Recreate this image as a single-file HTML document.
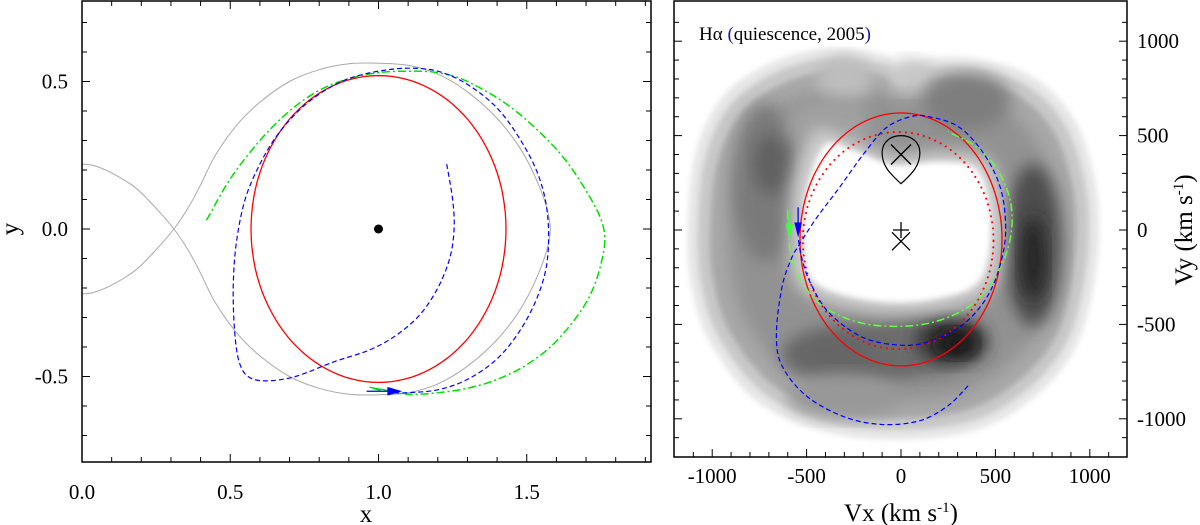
<!DOCTYPE html>
<html><head><meta charset="utf-8"><style>
html,body{margin:0;padding:0;background:#fff;}
svg{display:block;font-family:"Liberation Serif",serif;}
</style></head><body>
<svg id="fig" width="1200" height="525" viewBox="0 0 1200 525" xmlns="http://www.w3.org/2000/svg">
<defs>
<filter id="blur1" x="-20%" y="-20%" width="140%" height="140%"><feGaussianBlur stdDeviation="3"/></filter>
<filter id="blur2" x="-20%" y="-20%" width="140%" height="140%"><feGaussianBlur stdDeviation="8"/></filter>
<clipPath id="clipL"><rect x="82" y="1" width="569" height="461"/></clipPath>
<clipPath id="clipR"><rect x="674" y="1" width="453" height="456"/></clipPath>
</defs>
<g id="left"></g>
<g id="right"></g>
</svg>
<script>
// ---------- LEFT PANEL DATA (orbital coords) ----------
const rocheCurve = [[0,0.22],[0.04,0.215],[0.1,0.19],[0.18,0.14],[0.25,0.07],[0.31,0],[0.36,-0.075],[0.4,-0.15],[0.45,-0.25],[0.52,-0.35],[0.6,-0.43],[0.7,-0.5],[0.8,-0.54],[0.9,-0.56],[1.0,-0.562],[1.1,-0.555],[1.2,-0.525],[1.3,-0.465],[1.4,-0.375],[1.48,-0.27],[1.54,-0.15],[1.575,-0.04],[1.575,0.04],[1.54,0.15],[1.48,0.27],[1.4,0.375],[1.3,0.465],[1.2,0.525],[1.1,0.555],[1.0,0.562],[0.9,0.56],[0.8,0.54],[0.7,0.5],[0.6,0.43],[0.52,0.35],[0.45,0.25],[0.4,0.15],[0.36,0.075],[0.31,0],[0.25,-0.07],[0.18,-0.14],[0.1,-0.19],[0.04,-0.215],[0,-0.22]];
const diskCenter = [1.0, 0.0];
const diskRadii = [0.43, 0.52];
const greenOrbit = [[0.42,0.03],[0.5,0.17],[0.6,0.3],[0.7,0.4],[0.8,0.47],[0.9,0.51],[1.0,0.53],[1.1,0.535],[1.2,0.53],[1.3,0.5],[1.45,0.41],[1.6,0.27],[1.7,0.13],[1.76,0.0],[1.75,-0.12],[1.7,-0.25],[1.6,-0.38],[1.5,-0.46],[1.4,-0.51],[1.3,-0.54],[1.2,-0.555],[1.1,-0.56],[1.0,-0.545],[0.97,-0.535]];
const blueOrbit = [[1.23,0.22],[1.25,0.1],[1.255,0.0],[1.24,-0.1],[1.2,-0.2],[1.14,-0.29],[1.06,-0.36],[0.97,-0.41],[0.85,-0.45],[0.72,-0.5],[0.62,-0.515],[0.56,-0.5],[0.53,-0.45],[0.515,-0.35],[0.51,-0.2],[0.52,-0.05],[0.55,0.1],[0.6,0.22],[0.66,0.32],[0.74,0.41],[0.82,0.47],[0.9,0.51],[1.0,0.535],[1.1,0.545],[1.2,0.535],[1.3,0.49],[1.4,0.41],[1.48,0.3],[1.54,0.18],[1.57,0.05],[1.57,-0.1],[1.54,-0.22],[1.48,-0.34],[1.4,-0.44],[1.3,-0.51],[1.2,-0.545],[1.1,-0.555],[1.05,-0.555]];
const xTicksL = [0.0,0.5,1.0,1.5];
const xTickLabelsL = ["0.0","0.5","1.0","1.5"];
const yTicksL = [-0.5,0.0,0.5];
const yTickLabelsL = ["-0.5","0.0","0.5"];

// ---------- RIGHT PANEL DATA (km/s) ----------
const redDiskC = [0,-50]; const redDiskR = [535,670];
const redDotC = [-15,-56]; const redDotR = [505,575];
const blueVel = [[355,-826],[250,-930],[100,-1010],[-100,-1030],[-300,-990],[-500,-880],[-630,-720],[-660,-550],[-630,-300],[-580,-150],[-540,-80],[-450,60],[-330,220],[-200,400],[-80,540],[50,600],[150,600],[300,550],[420,430],[510,270],[550,100],[545,-100],[470,-330],[330,-500],[150,-590],[0,-610],[-200,-570],[-380,-440],[-480,-280],[-525,-150],[-545,-40]];
const greenVel = [[-600,100],[-595,0],[-585,-120],[-540,-250],[-420,-400],[-220,-490],[0,-510],[200,-480],[380,-390],[510,-230],[580,-40],[580,150],[510,320],[400,440],[250,520]];
const xTicksR = [-1000,-500,0,500,1000];
const xTickLabelsR = ["-1000","-500","0","500","1000"];
const yTicksR = [-1000,-500,0,500,1000];
const yTickLabelsR = ["-1000","-500","0","500","1000"];
const mapOuter = [[-1130,0],[-1090,400],[-950,700],[-700,880],[-400,960],[-100,930],[0,870],[150,910],[400,910],[700,810],[910,600],[1020,300],[1050,0],[1010,-350],[910,-650],[700,-890],[400,-1060],[0,-1110],[-400,-1070],[-760,-910],[-1010,-600],[-1110,-300]];
const mapHole = [[-510,-100],[-500,200],[-400,450],[-250,420],[-100,360],[0,340],[200,360],[400,320],[470,100],[460,-150],[380,-300],[150,-370],[-100,-380],[-350,-330],[-480,-250]];

const NS="http://www.w3.org/2000/svg";
function el(tag, attrs, parent){const e=document.createElementNS(NS,tag);for(const k in attrs)e.setAttribute(k,attrs[k]);parent.appendChild(e);return e;}
function txt(s,attrs,parent){const e=el('text',attrs,parent);e.textContent=s;return e;}

const lx=x=>82+x*296.5, ly=y=>229-y*295;
const rx=v=>901+v*0.1888, ry=v=>230-v*0.1888;
const pathOf=(pts,fx,fy,close)=>pts.map((p,i)=>(i?'L':'M')+fx(p[0]).toFixed(1)+' '+fy(p[1]).toFixed(1)).join(' ')+(close?' Z':'');
function smoothOpen(pts,fx,fy){
  const P=pts.map(p=>[fx(p[0]),fy(p[1])]);const n=P.length;let d='M'+P[0][0].toFixed(1)+' '+P[0][1].toFixed(1);
  for(let i=0;i<n-1;i++){const p0=P[Math.max(i-1,0)],p1=P[i],p2=P[i+1],p3=P[Math.min(i+2,n-1)];
    d+=' C'+(p1[0]+(p2[0]-p0[0])/6).toFixed(1)+' '+(p1[1]+(p2[1]-p0[1])/6).toFixed(1)+' '+(p2[0]-(p3[0]-p1[0])/6).toFixed(1)+' '+(p2[1]-(p3[1]-p1[1])/6).toFixed(1)+' '+p2[0].toFixed(1)+' '+p2[1].toFixed(1);}
  return d;}
function ellipsePts(c,r,n){const a=[];for(let i=0;i<=n;i++){const t=i/n*2*Math.PI;a.push([c[0]+r[0]*Math.cos(t),c[1]+r[1]*Math.sin(t)]);}return a;}
function smoothPath(pts,fx,fy){
  const P=pts.map(p=>[fx(p[0]),fy(p[1])]);const n=P.length;let d='M'+P[0][0]+' '+P[0][1];
  for(let i=0;i<n;i++){const p0=P[(i-1+n)%n],p1=P[i],p2=P[(i+1)%n],p3=P[(i+2)%n];
    d+=' C'+(p1[0]+(p2[0]-p0[0])/6)+' '+(p1[1]+(p2[1]-p0[1])/6)+' '+(p2[0]-(p3[0]-p1[0])/6)+' '+(p2[1]-(p3[1]-p1[1])/6)+' '+p2[0]+' '+p2[1];}
  return d+' Z';}

// ===== LEFT =====
const L=document.getElementById('left');
const Lc=el('g',{'clip-path':'url(#clipL)'},L);
let e;
e=el('path',{d:smoothOpen(rocheCurve,lx,ly),fill:'none',stroke:'#a8a8a8','stroke-width':1},Lc);


e=el('path',{d:pathOf(ellipsePts(diskCenter,diskRadii,120),lx,ly,true),fill:'none',stroke:'#ff0000','stroke-width':1.3},Lc);


e=el('path',{d:smoothOpen(greenOrbit,lx,ly),fill:'none',stroke:'#00e000','stroke-width':1.5,'stroke-dasharray':'8,3,2,3'},Lc);


e=el('path',{d:smoothOpen(blueOrbit,lx,ly),fill:'none',stroke:'#0000ff','stroke-width':1.2,'stroke-dasharray':'5,3'},Lc);


el('line',{x1:lx(0.97),y1:ly(-0.537),x2:lx(1.05),y2:ly(-0.55),stroke:'#00e000','stroke-width':1.3},Lc);
el('line',{x1:lx(0.96),y1:ly(-0.55),x2:lx(1.05),y2:ly(-0.55),stroke:'#0000ff','stroke-width':1.3},Lc);
e=el('polygon',{points:[[lx(1.08),ly(-0.55)],[lx(1.03),ly(-0.535)],[lx(1.03),ly(-0.565)]].map(p=>p.join(',')).join(' '),fill:'#0000ff'},Lc);


e=el('circle',{cx:lx(1.0),cy:ly(0),r:4.5,fill:'#000'},Lc);


e=el('rect',{x:82,y:1,width:569,height:461,fill:'none',stroke:'#000','stroke-width':1.5},L);


for(let i=0;i<=19;i++){const v=i/10,X=lx(v),len=(i%5==0)?8:5;
  el('line',{x1:X,y1:462,x2:X,y2:462-len,stroke:'#000','stroke-width':1},L);
  el('line',{x1:X,y1:1,x2:X,y2:1+len,stroke:'#000','stroke-width':1},L);}
for(let i=-7;i<=7;i++){const Y=ly(i/10),len=(i%5==0)?8:5;
  el('line',{x1:82,y1:Y,x2:82+len,y2:Y,stroke:'#000','stroke-width':1},L);
  el('line',{x1:651,y1:Y,x2:651-len,y2:Y,stroke:'#000','stroke-width':1},L);}
xTicksL.forEach((v,i)=>{e=txt(xTickLabelsL[i],{x:lx(v),y:499,'font-size':21,'text-anchor':'middle'},L);

});
yTicksL.forEach((v,i)=>{e=txt(yTickLabelsL[i],{x:68,y:ly(v)+7,'font-size':21,'text-anchor':'end'},L);

});
e=txt('x',{x:366,y:522,'font-size':25,'text-anchor':'middle'},L);


e=txt('y',{x:18,y:229,'font-size':25,'text-anchor':'middle',transform:'rotate(-90 18 229)'},L);



// ===== RIGHT =====
const R=document.getElementById('right');
const Rc=el('g',{'clip-path':'url(#clipR)'},R);
const map=el('g',{},Rc);


const scaleP=(pts,s,c)=>pts.map(p=>[c[0]+(p[0]-c[0])*s,c[1]+(p[1]-c[1])*s]);
el('path',{d:smoothPath(mapOuter,rx,ry),fill:'#e6e6e6',filter:'url(#blur1)'},map);
el('path',{d:smoothPath(scaleP(mapOuter,0.95,[-40,-60]),rx,ry),fill:'#c8c8c8',filter:'url(#blur1)'},map);
el('path',{d:smoothPath(scaleP(mapOuter,0.89,[-40,-80]),rx,ry),fill:'#a8a8a8',filter:'url(#blur1)'},map);
el('path',{d:smoothPath(scaleP(mapOuter,0.8,[-40,-80]),rx,ry),fill:'#929292',filter:'url(#blur2)'},map);
const blobs=[[-720,250,170,420,'#7a7a7a'],[-690,350,90,160,'#606060'],[-300,800,150,120,'#bdbdbd'],[50,820,120,90,'#c8c8c8'],[350,680,230,150,'#7e7e7e'],[-250,-660,380,160,'#666666'],[120,-620,300,150,'#6c6c6c'],[700,-80,150,430,'#4e4e4e'],[700,-150,70,220,'#262626'],[270,-590,190,120,'#303030'],[290,-600,100,70,'#181818'],[-380,560,220,140,'#a0a0a0'],[-300,-880,300,120,'#989898']];
blobs.forEach(b=>{el('ellipse',{cx:rx(b[0]),cy:ry(b[1]),rx:b[2]*0.1888,ry:b[3]*0.1888,fill:b[4],filter:'url(#blur2)'},map);});
el('path',{d:smoothPath(scaleP(mapHole,1.15,[-20,0]),rx,ry),fill:'#d0d0d0',filter:'url(#blur2)'},map);
el('path',{d:smoothPath(mapHole,rx,ry),fill:'#ffffff',filter:'url(#blur1)'},map);

e=el('path',{d:pathOf(ellipsePts(redDiskC,redDiskR,120),rx,ry,true),fill:'none',stroke:'#ff0000','stroke-width':1.3},Rc);


e=el('path',{d:pathOf(ellipsePts(redDotC,redDotR,120),rx,ry,true),fill:'none',stroke:'#ff0000','stroke-width':2,'stroke-dasharray':'0.1,6','stroke-linecap':'round'},Rc);


e=el('path',{d:smoothOpen(greenVel,rx,ry),fill:'none',stroke:'#60ff40','stroke-width':1.5,'stroke-dasharray':'8,3,2,3'},Rc);


e=el('path',{d:smoothOpen(blueVel,rx,ry),fill:'none',stroke:'#0000ff','stroke-width':1.2,'stroke-dasharray':'5,3'},Rc);


el('line',{x1:rx(-600),y1:ry(110),x2:rx(-590),y2:ry(-10),stroke:'#40ff40','stroke-width':1.2},Rc);
el('polygon',{points:[[rx(-590),ry(-50)],[rx(-610),ry(30)],[rx(-570),ry(30)]].map(p=>p.join(',')).join(' '),fill:'#40ff40'},Rc);
el('line',{x1:rx(-545),y1:ry(120),x2:rx(-545),y2:ry(20),stroke:'#0000ff','stroke-width':1.3},Rc);
el('polygon',{points:[[rx(-545),ry(-40)],[rx(-565),ry(40)],[rx(-525),ry(40)]].map(p=>p.join(',')).join(' '),fill:'#0000ff'},Rc);
const tdc=[0,400];
e=el('path',{d:`M${rx(0)} ${ry(245)} C${rx(-60)} ${ry(300)} ${rx(-100)} ${ry(340)} ${rx(-100)} ${ry(410)} C${rx(-100)} ${ry(530)} ${rx(100)} ${ry(530)} ${rx(100)} ${ry(410)} C${rx(100)} ${ry(340)} ${rx(60)} ${ry(300)} ${rx(0)} ${ry(245)} Z`,fill:'none',stroke:'#000','stroke-width':1.2},Rc);


function xmark(c,s,name){const g=el('g',{},Rc);


el('line',{x1:rx(c[0])-s,y1:ry(c[1])-s,x2:rx(c[0])+s,y2:ry(c[1])+s,stroke:'#000','stroke-width':1.3},g);
el('line',{x1:rx(c[0])-s,y1:ry(c[1])+s,x2:rx(c[0])+s,y2:ry(c[1])-s,stroke:'#000','stroke-width':1.3},g);}
xmark(tdc,10,'secondary-star-marker');
xmark([0,-60],9,'white-dwarf-x-marker');
e=el('path',{d:`M${rx(0)-8} ${ry(0)} H${rx(0)+8} M${rx(0)} ${ry(0)-8} V${ry(0)+8}`,stroke:'#000','stroke-width':1.3},Rc);


e=el('rect',{x:674,y:1,width:453,height:456,fill:'none',stroke:'#000','stroke-width':1.5},R);


for(let v=-1100;v<=1100;v+=100){const X=rx(v),len=(v%500==0)?8:5;
  el('line',{x1:X,y1:457,x2:X,y2:457-len,stroke:'#000','stroke-width':1},R);}
for(let v=-1100;v<=1100;v+=100){const Y=ry(v),len=(v%500==0)?8:5;
  el('line',{x1:674,y1:Y,x2:674+len,y2:Y,stroke:'#000','stroke-width':1},R);
  el('line',{x1:1127,y1:Y,x2:1127-len,y2:Y,stroke:'#000','stroke-width':1},R);}
xTicksR.forEach((v,i)=>{e=txt(xTickLabelsR[i],{x:rx(v),y:483,'font-size':21,'text-anchor':'middle'},R);

});
yTicksR.forEach((v,i)=>{e=txt(yTickLabelsR[i],{x:1137,y:ry(v)+7,'font-size':21,'text-anchor':'start'},R);

});
e=txt('',{x:901,y:521,'font-size':25,'text-anchor':'middle'},R);
e.innerHTML='Vx (km s<tspan dy="-9" font-size="15">-1</tspan><tspan dy="9">)</tspan>';


e=txt('',{x:1192,y:230,'font-size':25,'text-anchor':'middle',transform:'rotate(-90 1192 230)'},R);
e.innerHTML='Vy (km s<tspan dy="-9" font-size="15">-1</tspan><tspan dy="9">)</tspan>';


e=txt('',{x:699,y:40,'font-size':19},R);
e.innerHTML='Hα <tspan fill="#1a1a9a">(</tspan>quiescence, 2005<tspan fill="#1a1a9a">)</tspan>';


</script>
</body></html>
